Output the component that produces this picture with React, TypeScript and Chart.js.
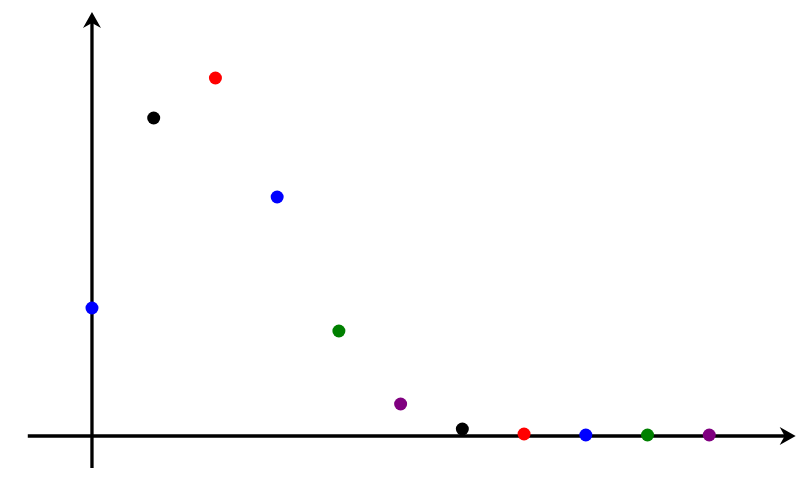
import React, { useRef, useEffect } from 'react';
import Chart from 'chart.js/auto';

// values (arbitrary units)
const xValues = [0, 1, 2, 3, 4, 5, 6, 7, 8, 9, 10];
const yValues = [0.128, 0.318, 0.358, 0.239, 0.105, 0.032, 0.007, 0.002, 0.001, 0.001, 0.001];
const pointColors = ['blue', 'black', 'red', 'blue', 'green', 'purple', 'black', 'red', 'blue', 'green', 'purple'];

// axis extents in data units
const xAxisRange = [-1.04, 11.4];
const yAxisRange = [-0.032, 0.424];

const arrowAxes = {
  id: 'arrowAxes',
  beforeDatasetsDraw(chart: any) {
    const { ctx, scales } = chart;
    const x = scales.x;
    const y = scales.y;
    const x0 = x.getPixelForValue(0);
    const y0 = y.getPixelForValue(0);
    const xl = x.getPixelForValue(xAxisRange[0]);
    const xr = x.getPixelForValue(xAxisRange[1]);
    const yb = y.getPixelForValue(yAxisRange[0]);
    const yt = y.getPixelForValue(yAxisRange[1]);
    ctx.save();
    ctx.strokeStyle = 'black';
    ctx.fillStyle = 'black';
    ctx.lineWidth = 3.3;
    ctx.beginPath();
    ctx.moveTo(xl, y0);
    ctx.lineTo(xr - 8, y0);
    ctx.moveTo(x0, yb);
    ctx.lineTo(x0, yt + 8);
    ctx.stroke();
    // x arrow
    ctx.beginPath();
    ctx.moveTo(xr, y0);
    ctx.lineTo(xr - 16, y0 - 9);
    ctx.lineTo(xr - 11, y0);
    ctx.lineTo(xr - 16, y0 + 9);
    ctx.closePath();
    ctx.fill();
    // y arrow
    ctx.beginPath();
    ctx.moveTo(x0, yt);
    ctx.lineTo(x0 - 9, yt + 16);
    ctx.lineTo(x0, yt + 11);
    ctx.lineTo(x0 + 9, yt + 16);
    ctx.closePath();
    ctx.fill();
    ctx.restore();
  },
};

const ScatterChart: React.FC = () => {
  const canvasRef = useRef<HTMLCanvasElement | null>(null);

  useEffect(() => {
    if (!canvasRef.current) return;
    const chart = new Chart(canvasRef.current, {
      type: 'scatter',
      data: {
        datasets: [
          {
            data: xValues.map((v, i) => ({ x: v, y: yValues[i] })),
            backgroundColor: pointColors,
            borderColor: pointColors,
            borderWidth: 0,
            pointRadius: 6.5,
            pointHoverRadius: 6.5,
          },
        ],
      },
      options: {
        responsive: false,
        animation: false,
        layout: { padding: 0, autoPadding: false },
        scales: {
          x: { type: 'linear', display: false, min: -1.49, max: 11.47 },
          y: { type: 'linear', display: false, min: -0.054, max: 0.436 },
        },
        plugins: {
          legend: { display: false },
          tooltip: { enabled: false },
        },
      },
      plugins: [arrowAxes],
    });
    return () => {
      chart.destroy();
    };
  }, []);

  return <canvas ref={canvasRef} width={800} height={490} style={{ display: 'block' }} />;
};

export default function App() {
  useEffect(() => {
    document.body.style.margin = '0';
  }, []);
  return (
    <div style={{ width: 800, height: 490, background: 'white' }}>
      <ScatterChart />
    </div>
  );
}
